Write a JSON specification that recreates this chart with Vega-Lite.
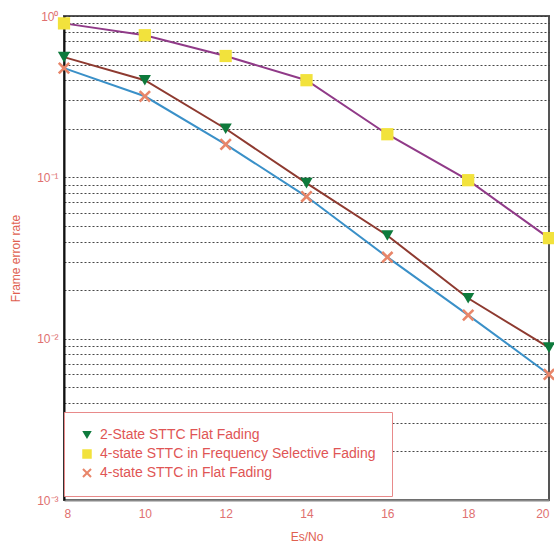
{
  "$schema": "https://vega.github.io/schema/vega-lite/v6.json",
  "autosize": "none",
  "width": 485,
  "height": 484,
  "padding": {"left": 64, "top": 16, "right": 5, "bottom": 51},
  "background": "white",
  "config": {
    "view": {"stroke": "#555", "strokeWidth": 2},
    "font": "Liberation Sans"
  },
  "data": {
    "values": [
      {"snr": 8, "fer": 0.556, "series": "2-State STTC Flat Fading"},
      {"snr": 10, "fer": 0.40, "series": "2-State STTC Flat Fading"},
      {"snr": 12, "fer": 0.20, "series": "2-State STTC Flat Fading"},
      {"snr": 14, "fer": 0.092, "series": "2-State STTC Flat Fading"},
      {"snr": 16, "fer": 0.0436, "series": "2-State STTC Flat Fading"},
      {"snr": 18, "fer": 0.0178, "series": "2-State STTC Flat Fading"},
      {"snr": 20, "fer": 0.0088, "series": "2-State STTC Flat Fading"},
      {"snr": 8, "fer": 0.90, "series": "4-state STTC in Frequency Selective Fading"},
      {"snr": 10, "fer": 0.76, "series": "4-state STTC in Frequency Selective Fading"},
      {"snr": 12, "fer": 0.565, "series": "4-state STTC in Frequency Selective Fading"},
      {"snr": 14, "fer": 0.40, "series": "4-state STTC in Frequency Selective Fading"},
      {"snr": 16, "fer": 0.185, "series": "4-state STTC in Frequency Selective Fading"},
      {"snr": 18, "fer": 0.096, "series": "4-state STTC in Frequency Selective Fading"},
      {"snr": 20, "fer": 0.042, "series": "4-state STTC in Frequency Selective Fading"},
      {"snr": 8, "fer": 0.475, "series": "4-state STTC in Flat Fading"},
      {"snr": 10, "fer": 0.318, "series": "4-state STTC in Flat Fading"},
      {"snr": 12, "fer": 0.16, "series": "4-state STTC in Flat Fading"},
      {"snr": 14, "fer": 0.076, "series": "4-state STTC in Flat Fading"},
      {"snr": 16, "fer": 0.032, "series": "4-state STTC in Flat Fading"},
      {"snr": 18, "fer": 0.014, "series": "4-state STTC in Flat Fading"},
      {"snr": 20, "fer": 0.006, "series": "4-state STTC in Flat Fading"}
    ]
  },
  "encoding": {
    "x": {
      "field": "snr", "type": "quantitative",
      "scale": {"domain": [8, 20], "nice": false, "zero": false},
      "axis": {
        "title": "Es/No", "values": [8, 10, 12, 14, 16, 18, 20],
        "grid": false, "ticks": false, "domain": true, "domainColor": "#888", "domainWidth": 2,
        "labelColor": "#e07070", "labelFontSize": 12, "labelPadding": 8,
        "titleColor": "#e06050", "titleFontSize": 12, "titleFontWeight": "normal", "titlePadding": 12
      }
    },
    "y": {
      "field": "fer", "type": "quantitative",
      "scale": {"type": "log", "domain": [0.001, 1], "nice": false},
      "axis": {
        "title": "Frame error rate",
        "values": [0.001, 0.002, 0.003, 0.004, 0.005, 0.006, 0.007, 0.008, 0.009, 0.01, 0.02, 0.03, 0.04, 0.05, 0.06, 0.07, 0.08, 0.09, 0.1, 0.2, 0.3, 0.4, 0.5, 0.6, 0.7, 0.8, 0.9, 1],
        "labelExpr": "datum.value == 1 ? '10⁰' : datum.value == 0.1 ? '10⁻¹' : datum.value == 0.01 ? '10⁻²' : datum.value == 0.001 ? '10⁻³' : ''",
        "grid": true, "gridColor": "#333", "gridDash": [2, 2], "gridWidth": 1.2, "gridOpacity": 0.9,
        "ticks": false, "domain": true, "domainColor": "#111", "domainWidth": 2,
        "labelColor": "#e07070", "labelFontSize": 12, "labelPadding": 6,
        "titleColor": "#e06050", "titleFontSize": 12, "titleFontWeight": "normal", "titlePadding": 14
      }
    }
  },
  "layer": [
    {
      "mark": {"type": "line", "strokeWidth": 2},
      "encoding": {
        "stroke": {
          "field": "series", "type": "nominal",
          "scale": {
            "domain": ["4-state STTC in Frequency Selective Fading", "2-State STTC Flat Fading", "4-state STTC in Flat Fading"],
            "range": ["#903a88", "#8e3a30", "#3a90c8"]
          },
          "legend": null
        }
      }
    },
    {
      "mark": {"type": "point", "filled": true, "size": 150, "opacity": 1},
      "encoding": {
        "color": {
          "field": "series", "type": "nominal",
          "scale": {
            "domain": ["2-State STTC Flat Fading", "4-state STTC in Frequency Selective Fading", "4-state STTC in Flat Fading"],
            "range": ["#0e7a3c", "#f2e23c", "#e8866a"]
          },
          "legend": {
            "title": null, "orient": "none", "legendX": 0, "legendY": 396,
            "fillColor": "white", "strokeColor": "#e88a8a", "padding": 16,
            "labelColor": "#e05555", "labelFontSize": 14, "labelLimit": 500, "rowPadding": 5,
            "symbolSize": 90, "labelOffset": 6
          }
        },
        "shape": {
          "field": "series", "type": "nominal",
          "scale": {
            "domain": ["2-State STTC Flat Fading", "4-state STTC in Frequency Selective Fading", "4-state STTC in Flat Fading"],
            "range": ["triangle-down", "square", "M-1,-0.7L-0.7,-1L0,-0.3L0.7,-1L1,-0.7L0.3,0L1,0.7L0.7,1L0,0.3L-0.7,1L-1,0.7L-0.3,0Z"]
          },
          "legend": {
            "title": null, "orient": "none", "legendX": 0, "legendY": 396,
            "fillColor": "white", "strokeColor": "#e88a8a", "padding": 16,
            "labelColor": "#e05555", "labelFontSize": 14, "labelLimit": 500, "rowPadding": 5,
            "symbolSize": 90, "labelOffset": 6
          }
        }
      }
    }
  ]
}
